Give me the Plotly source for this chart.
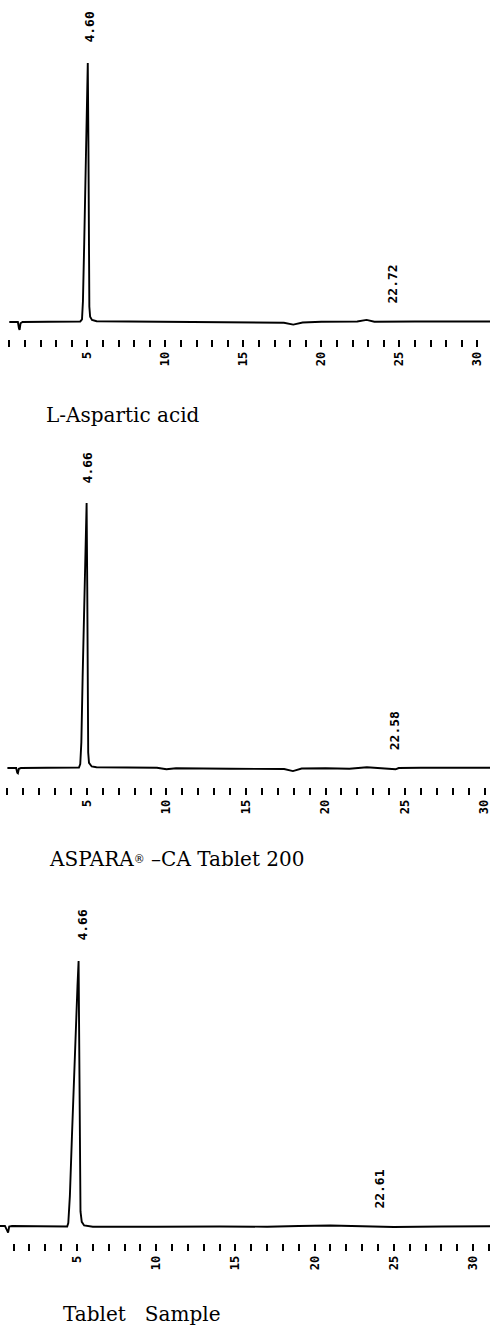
import plotly.graph_objects as go

# ---------------- data ----------------
# retention time (min) and detector signal (arbitrary units) for each trace
p1_t = [0, 0.55, 0.62, 0.66, 0.72, 0.85, 2.5, 4.55, 4.66, 4.72, 4.80, 4.88, 4.96,
        5.03, 5.07, 5.10, 5.13, 5.18, 5.3, 5.6, 7, 9.5, 10.5, 14, 17.6, 18.2,
        18.8, 20, 22.3, 22.9, 23.4, 26, 31]
p1_y = [0, 0, -2.5, -3.0, -0.5, 0, 0.1, 0.2, 1, 8, 30, 60, 85,
        100, 70, 25, 6, 2, 0.8, 0.3, 0.2, 0.3, 0.2, -0.2, -0.3, -1.0,
        -0.2, 0.1, 0.2, 0.8, 0.1, 0.2, 0.2]

p2_t = [0, 0.55, 0.62, 0.66, 0.72, 0.85, 2.5, 4.50, 4.58, 4.65, 4.73, 4.82, 4.90,
        4.98, 5.02, 5.05, 5.08, 5.13, 5.3, 5.6, 7, 9.4, 10.0, 10.6, 14, 17.4,
        17.95, 18.5, 20, 21.5, 22.6, 23.5, 24.4, 24.6, 26, 30.5]
p2_y = [0, 0, -1.8, -2.0, -0.3, 0, 0.1, 0.2, 1.5, 10, 35, 65, 88,
        102.3, 70, 25, 6, 2, 0.6, 0.3, 0.2, 0.1, -0.5, -0.1, -0.3, -0.4,
        -1.2, -0.2, -0.1, -0.3, 0.3, 0, -0.5, 0, 0.1, 0.1]

p3_t = [0, 0.1, 0.45, 0.6, 0.65, 0.72, 0.9, 2.5, 4.38, 4.45, 4.55, 4.68, 4.80,
        4.92, 5.03, 5.10, 5.14, 5.18, 5.22, 5.30, 5.45, 6, 8, 10, 14, 17, 19,
        21, 23, 25, 28, 31.1]
p3_y = [0.4, 0.4, 0.4, -1.5, -2.2, 0.2, 0.4, 0.3, 0.2, 1.5, 12, 35, 58,
        78, 93, 102.7, 70, 25, 6, 2, 0.6, 0.1, 0, 0.1, 0.2, 0.1, 0.4,
        0.6, 0.3, 0, 0.2, 0.3]

peak_labels = [["4.60", "22.72"], ["4.66", "22.58"], ["4.66", "22.61"]]
peak_label_t = [[5.11, 24.53], [5.06, 24.35], [5.32, 24.07]]

captions = ["L-Aspartic acid",
            "ASPARA<span style=\"font-size:11px;baseline-shift:3px\">®</span> \u2013CA Tablet 200",
            "Tablet\u00a0\u00a0 Sample"]

tick_vals = [5, 10, 15, 20, 25, 30]
tick_text = ["5", "10", "15", "20", "25", "30"]

# ---------------- layout geometry (pixels) ----------------
W, H = 490, 1327
SCALE = 2.59            # px per signal unit
panels = [
    # top, bottom(tick line), baseline, x-range
    dict(top=0,   bottom=339,  base=322,  xr=[-0.596, 30.81]),
    dict(top=430, bottom=787,  base=768,  xr=[-0.465, 30.34]),
    dict(top=890, bottom=1243, base=1227, xr=[0.139, 31.07]),
]
cap_pos = [(45, 415), (48, 859), (62, 1314)]

traces = [(p1_t, p1_y), (p2_t, p2_y), (p3_t, p3_y)]

fig = go.Figure()
mono = dict(family="DejaVu Sans Mono", size=13, color="black", weight="bold")

for i, (pan, (t, y)) in enumerate(zip(panels, traces)):
    n = "" if i == 0 else str(i + 1)
    xa, ya = "x" + n, "y" + n
    fig.add_trace(go.Scatter(x=t, y=y, mode="lines", xaxis=xa, yaxis=ya,
                             line=dict(color="black", width=1.9),
                             showlegend=False, hoverinfo="skip"))
    dom = [1 - pan["bottom"] / H, 1 - pan["top"] / H]
    yr = [-(pan["bottom"] - pan["base"]) / SCALE, (pan["base"] - pan["top"]) / SCALE]
    fig.update_layout(**{
        "xaxis" + n: dict(domain=[0, 1], range=pan["xr"], anchor=ya,
                          showgrid=False, zeroline=False, showline=False,
                          automargin=False, ticklabeloverflow="allow",
                          ticks="outside", ticklen=7, tickwidth=2, tickcolor="black",
                          tickvals=tick_vals, ticktext=tick_text, tickangle=-90,
                          tickfont=dict(family="DejaVu Sans Mono", size=12,
                                        color="black", weight="bold"),
                          minor=dict(dtick=1, tick0=0, ticks="outside", ticklen=7,
                                     tickwidth=2, tickcolor="black")),
        "yaxis" + n: dict(domain=dom, range=yr, anchor=xa, visible=False,
                          automargin=False),
    })
    # peak labels
    apex = max(y)
    for j, (txt, lt) in enumerate(zip(peak_labels[i], peak_label_t[i])):
        fig.add_annotation(x=lt, y=apex if j == 0 else 0, xref=xa, yref=ya,
                           text=txt, showarrow=False, textangle=-90,
                           xanchor="center", yanchor="bottom",
                           yshift=19 if j == 0 else 17, borderpad=0,
                           font=mono)

for txt, (cx, cy) in zip(captions, cap_pos):
    fig.add_annotation(x=cx / W, y=1 - cy / H, xref="paper", yref="paper",
                       text=txt, showarrow=False, xanchor="left", yanchor="middle",
                       borderpad=0,
                       font=dict(family="DejaVu Serif", size=20, color="black"))

fig.update_layout(width=W, height=H,
                  margin=dict(l=0, r=0, t=0, b=0, pad=0, autoexpand=False),
                  plot_bgcolor="white", paper_bgcolor="white")

fig.write_html("out.html",
               config=dict(displayModeBar=False, staticPlot=True),
               post_script="document.body.style.margin='0';"
                           "document.body.style.padding='0';"
                           "document.body.style.overflow='hidden';")
